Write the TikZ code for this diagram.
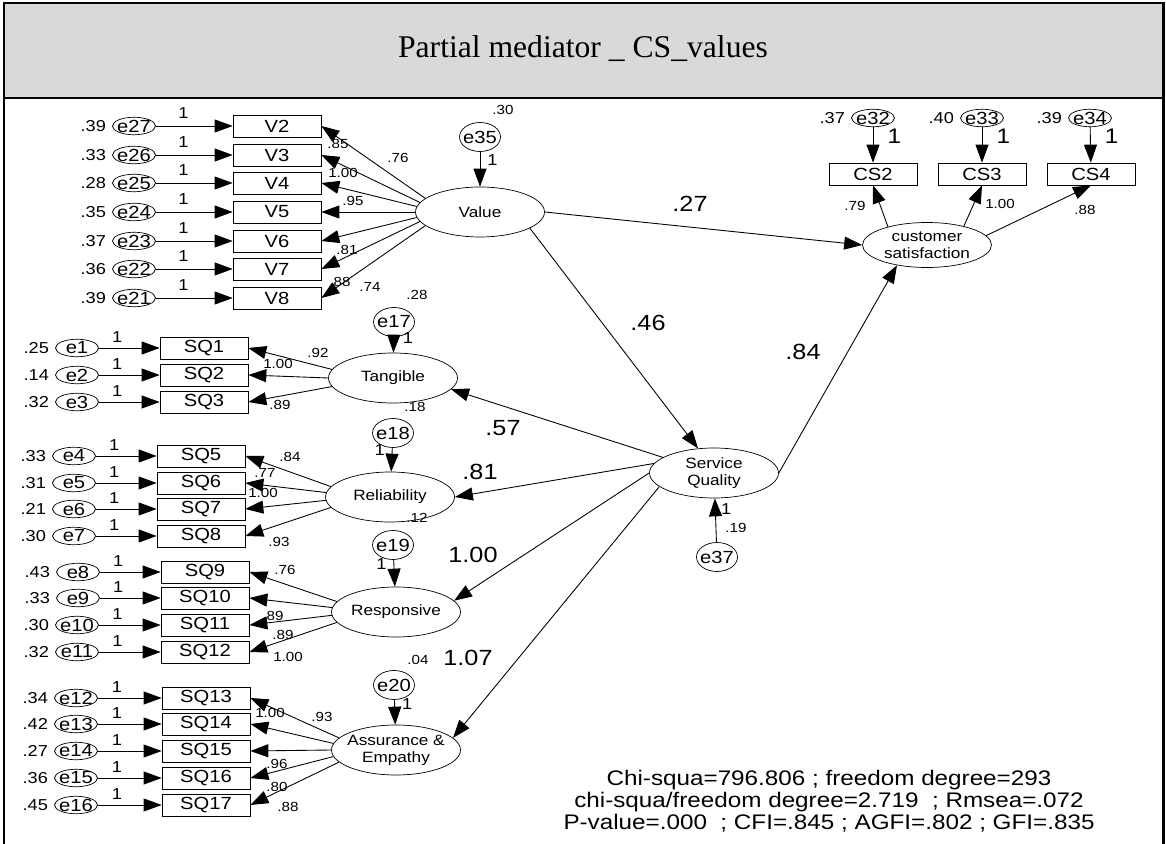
\documentclass[tikz,border=0pt]{standalone}
\usepackage{fontspec}
\setmainfont{Liberation Sans}[FakeStretch=1.15]
\newfontfamily\titlefont{Liberation Serif}
\usetikzlibrary{arrows.meta}
\usetikzlibrary{shapes.geometric}
\definecolor{titlegray}{RGB}{217,217,217}
\tikzset{
	latent/.style={
		ellipse,
		draw=black,
		thin,
		minimum width=2.58cm,
		minimum height=1cm,
		inner xsep=-5pt,
		inner ysep=0pt,
		align=center,
		font=\fontsize{8.5}{9.6}\selectfont,
	},
	manifest/.style={
		rectangle,
		draw=black,
		thin,
		minimum width=1.76cm,
		minimum height=0.44cm,
		inner sep=0pt,
		font=\fontsize{10}{12}\selectfont,
	},
	err/.style={
		ellipse,
		draw=black,
		thin,
		minimum width=0.86cm,
		minimum height=0.35cm,
		inner xsep=-3pt,
		inner ysep=-1pt,
		label distance=6pt,
		font=\fontsize{10}{12}\selectfont,
	},
	dist/.style={
		err,
		minimum width=0.82cm,
		minimum height=0.58cm,
	},
	varlab/.style={
		font=\fontsize{9}{10}\selectfont,
	},
	coef/.style={
		font=\fontsize{7.5}{8}\selectfont,
		inner sep=0pt,
	},
	pathlab/.style={
		font=\fontsize{12.5}{14}\selectfont,
		inner sep=0pt,
	},
	onelab/.style={
		font=\fontsize{9}{10}\selectfont,
		inner sep=1pt,
	},
	onebig/.style={
		font=\fontsize{12}{14}\selectfont,
		inner sep=1pt,
	},
	arrow/.style={
		-{Triangle[length=0.36cm,width=0.26cm]},
		line width=0.5pt,
	},
}

\begin{document}
\begin{tikzpicture}[x=0.02cm, y=-0.02cm]
		\useasboundingbox (0,0) rectangle (1166,844);

		% frame and title band
		\fill[titlegray] (4,3) rectangle (1163,98);
		\draw[line width=1.7pt] (4,844) -- (4,3) -- (1163,3) -- (1163,844);
		\draw[line width=1.7pt] (4,98) -- (1163,98);
		\node[font=\titlefont\fontsize{18}{20}\selectfont] (title) at (583,49) {Partial mediator \_ CS\_values};

		% Latent variables
		\node[latent] (value) at (480,212) {Value};
		\node[latent] (tang) at (393,378) {Tangible};
		\node[latent] (rel) at (390,497) {Reliability};
		\node[latent] (resp) at (396,612) {Responsive};
		\node[latent] (assur) at (396,750) {Assurance \&\\Empathy};
		\node[latent] (sq) at (714,473) {Service\\Quality};
		\node[latent, minimum height=0.9cm] (cs) at (927,245) {customer\\satisfaction};

		% Disturbances
		\node[dist] (e35) at (480,137) {e35};
		\node[dist] (e17) at (394,322) {e17};
		\node[dist] (e18) at (393,433) {e18};
		\node[dist] (e19) at (393,545) {e19};
		\node[dist] (e20) at (394,685) {e20};
		\node[dist] (e37) at (717,557) {e37};

		% Value indicators
		\node[manifest] (v2) at (277,126) {V2};
		\node[manifest] (v3) at (277,155) {V3};
		\node[manifest] (v4) at (277,183) {V4};
		\node[manifest] (v5) at (277,212) {V5};
		\node[manifest] (v6) at (277,241) {V6};
		\node[manifest] (v7) at (277,269) {V7};
		\node[manifest] (v8) at (277,298) {V8};

		\node[err, label={[varlab]left:.39}] (e27) at (134,126) {e27};
		\node[err, label={[varlab]left:.33}] (e26) at (134,155) {e26};
		\node[err, label={[varlab]left:.28}] (e25) at (134,183) {e25};
		\node[err, label={[varlab]left:.35}] (e24) at (134,212) {e24};
		\node[err, label={[varlab]left:.37}] (e23) at (134,241) {e23};
		\node[err, label={[varlab]left:.36}] (e22) at (134,269) {e22};
		\node[err, label={[varlab]left:.39}] (e21) at (134,298) {e21};

		% Service quality indicators
		\node[manifest] (sq1) at (204,348) {SQ1};
		\node[manifest] (sq2) at (204,375) {SQ2};
		\node[manifest] (sq3) at (204,402) {SQ3};
		\node[manifest] (sq5) at (201,456) {SQ5};
		\node[manifest] (sq6) at (201,483) {SQ6};
		\node[manifest] (sq7) at (201,509) {SQ7};
		\node[manifest] (sq8) at (201,536) {SQ8};
		\node[manifest] (sq9) at (205,572) {SQ9};
		\node[manifest] (sq10) at (205,598) {SQ10};
		\node[manifest] (sq11) at (205,625) {SQ11};
		\node[manifest] (sq12) at (205,652) {SQ12};
		\node[manifest] (sq13) at (206,698) {SQ13};
		\node[manifest] (sq14) at (206,724) {SQ14};
		\node[manifest] (sq15) at (206,751) {SQ15};
		\node[manifest] (sq16) at (206,778) {SQ16};
		\node[manifest] (sq17) at (206,805) {SQ17};

		\node[err, label={[varlab]left:.25}] (e1) at (77,348) {e1};
		\node[err, label={[varlab]left:.14}] (e2) at (77,375) {e2};
		\node[err, label={[varlab]left:.32}] (e3) at (77,402) {e3};
		\node[err, label={[varlab]left:.33}] (e4) at (74,456) {e4};
		\node[err, label={[varlab]left:.31}] (e5) at (74,483) {e5};
		\node[err, label={[varlab]left:.21}] (e6) at (74,509) {e6};
		\node[err, label={[varlab]left:.30}] (e7) at (74,536) {e7};
		\node[err, label={[varlab]left:.43}] (e8) at (78,572) {e8};
		\node[err, label={[varlab]left:.33}] (e9) at (78,598) {e9};
		\node[err, label={[varlab]left:.30}] (e10) at (77,625) {e10};
		\node[err, label={[varlab]left:.32}] (e11) at (77,652) {e11};
		\node[err, label={[varlab]left:.34}] (e12) at (76,698) {e12};
		\node[err, label={[varlab]left:.42}] (e13) at (76,724) {e13};
		\node[err, label={[varlab]left:.27}] (e14) at (76,751) {e14};
		\node[err, label={[varlab]left:.36}] (e15) at (76,778) {e15};
		\node[err, label={[varlab]left:.45}] (e16) at (76,805) {e16};

		% Customer satisfaction indicators
		\node[manifest] (cs2) at (873,174) {CS2};
		\node[manifest] (cs3) at (982,174) {CS3};
		\node[manifest] (cs4) at (1091,174) {CS4};
		\node[err, label={[varlab]left:.37}] (e32) at (873,118) {e32};
		\node[err, label={[varlab]left:.40}] (e33) at (982,118) {e33};
		\node[err, label={[varlab]left:.39}] (e34) at (1090,118) {e34};

		% error arrows
		\draw[arrow] (e27) -- node[onelab, above=3pt, pos=0.36] {1} (v2);
		\draw[arrow] (e26) -- node[onelab, above=3pt, pos=0.36] {1} (v3);
		\draw[arrow] (e25) -- node[onelab, above=3pt, pos=0.36] {1} (v4);
		\draw[arrow] (e24) -- node[onelab, above=3pt, pos=0.36] {1} (v5);
		\draw[arrow] (e23) -- node[onelab, above=3pt, pos=0.36] {1} (v6);
		\draw[arrow] (e22) -- node[onelab, above=3pt, pos=0.36] {1} (v7);
		\draw[arrow] (e21) -- node[onelab, above=3pt, pos=0.36] {1} (v8);

		\draw[arrow] (e1) -- node[onelab, above=2pt, pos=0.3] {1} (sq1);
		\draw[arrow] (e2) -- node[onelab, above=2pt, pos=0.3] {1} (sq2);
		\draw[arrow] (e3) -- node[onelab, above=2pt, pos=0.3] {1} (sq3);
		\draw[arrow] (e4) -- node[onelab, above=2pt, pos=0.3] {1} (sq5);
		\draw[arrow] (e5) -- node[onelab, above=2pt, pos=0.3] {1} (sq6);
		\draw[arrow] (e6) -- node[onelab, above=2pt, pos=0.3] {1} (sq7);
		\draw[arrow] (e7) -- node[onelab, above=2pt, pos=0.3] {1} (sq8);
		\draw[arrow] (e8) -- node[onelab, above=2pt, pos=0.3] {1} (sq9);
		\draw[arrow] (e9) -- node[onelab, above=2pt, pos=0.3] {1} (sq10);
		\draw[arrow] (e10) -- node[onelab, above=2pt, pos=0.3] {1} (sq11);
		\draw[arrow] (e11) -- node[onelab, above=2pt, pos=0.3] {1} (sq12);
		\draw[arrow] (e12) -- node[onelab, above=2pt, pos=0.3] {1} (sq13);
		\draw[arrow] (e13) -- node[onelab, above=2pt, pos=0.3] {1} (sq14);
		\draw[arrow] (e14) -- node[onelab, above=2pt, pos=0.3] {1} (sq15);
		\draw[arrow] (e15) -- node[onelab, above=2pt, pos=0.3] {1} (sq16);
		\draw[arrow] (e16) -- node[onelab, above=2pt, pos=0.3] {1} (sq17);

		\draw[arrow] (e32) -- node[onebig, right, pos=0.25, xshift=7pt] {1} (cs2);
		\draw[arrow] (e33) -- node[onebig, right, pos=0.25, xshift=7pt] {1} (cs3);
		\draw[arrow] (e34) -- node[onebig, right, pos=0.25, xshift=7pt] {1} (cs4);

		\draw[arrow] (e35) -- node[onelab, right=3pt, pos=0.25] {1} (value);
		\draw[arrow] (e17) -- node[onelab, right=4pt, pos=0.05] {1} (tang);
		\draw[arrow] (e18) -- node[onelab, left=3pt, pos=0.1] {1} (rel);
		\draw[arrow] (e19) -- node[onelab, left=3pt, pos=0.15] {1} (resp);
		\draw[arrow] (e20) -- node[onelab, right=3pt, pos=0.15] {1} (assur);
		\draw[arrow] (e37) -- node[onelab, right=2pt, pos=0.75] {1} (sq);

		% loadings
		\draw[arrow] (value.166) -- (v2.east);
		\draw[arrow] (value.171) -- (v3.east);
		\draw[arrow] (value.175) -- (v4.east);
		\draw[arrow] (value.180) -- (v5.east);
		\draw[arrow] (value.185) -- (v6.east);
		\draw[arrow] (value.189) -- (v7.east);
		\draw[arrow] (value.194) -- (v8.east);

		\draw[arrow] (tang.172) -- (sq1.east);
		\draw[arrow] (tang.180) -- (sq2.east);
		\draw[arrow] (tang.188) -- (sq3.east);

		\draw[arrow] (rel.170) -- (sq5.east);
		\draw[arrow] (rel.176) -- (sq6.east);
		\draw[arrow] (rel.183) -- (sq7.east);
		\draw[arrow] (rel.190) -- (sq8.east);

		\draw[arrow] (resp.170) -- (sq9.east);
		\draw[arrow] (resp.176) -- (sq10.east);
		\draw[arrow] (resp.183) -- (sq11.east);
		\draw[arrow] (resp.190) -- (sq12.east);

		\draw[arrow] (assur.168) -- (sq13.east);
		\draw[arrow] (assur.174) -- (sq14.east);
		\draw[arrow] (assur.180) -- (sq15.east);
		\draw[arrow] (assur.186) -- (sq16.east);
		\draw[arrow] (assur.192) -- (sq17.east);

		\draw[arrow] (cs.155) -- (cs2.south);
		\draw[arrow] (cs.27) -- (cs3.south);
		\draw[arrow] (cs.9) -- (cs4.south);

		% structural paths
		\draw[arrow] (value.east) -- (cs.west);
		\draw[arrow] (value.-18) -- (sq.123);
		\draw[arrow] (sq.east) -- (cs.214);
		\draw[arrow] (sq.163) -- (tang.-11);
		\draw[arrow] (sq.171) -- (rel.east);
		\draw[arrow] (sq.180) -- (resp.11);
		\draw[arrow] (sq.194) -- (assur.12);

		% loading estimates
		\node[coef] (lv2) at (338,144) {.85};
		\node[coef] (lv2b) at (398,158) {.76};
		\node[coef] (lv3) at (343,173) {1.00};
		\node[coef] (lv4) at (353,201) {.95};
		\node[coef] (lv6) at (347,250) {.81};
		\node[coef] (lv7) at (340,282) {.88};
		\node[coef] (lv8) at (370,287) {.74};

		\node[coef] (lt1) at (318,353) {.92};
		\node[coef] (lt2) at (278,364) {1.00};
		\node[coef] (lt3) at (280,405) {.89};

		\node[coef] (lr1) at (290,457) {.84};
		\node[coef] (lr2) at (265,473) {.77};
		\node[coef] (lr3) at (263,493) {1.00};
		\node[coef] (lr4) at (279,542) {.93};

		\node[coef] (lp1) at (285,570) {.76};
		\node[coef] (lp2) at (275,616) {89};
		\node[coef] (lp3) at (283,635) {.89};
		\node[coef] (lp4) at (288,657) {1.00};

		\node[coef] (la1) at (270,713) {1.00};
		\node[coef] (la2) at (322,717) {.93};
		\node[coef] (la3) at (277,764) {.96};
		\node[coef] (la4) at (277,787) {.80};
		\node[coef] (la5) at (288,807) {.88};

		\node[coef] (lc2) at (855,206) {.79};
		\node[coef] (lc3) at (1000,204) {1.00};
		\node[coef] (lc4) at (1085,210) {.88};

		% squared multiple correlations
		\node[coef] (r2value) at (503,110) {.30};
		\node[coef] (r2tang) at (417,295) {.28};
		\node[coef] (r2rel) at (415,407) {.18};
		\node[coef] (r2resp) at (417,518) {.12};
		\node[coef] (r2assur) at (418,660) {.04};
		\node[coef] (r2sq) at (736,528) {.19};

		% path estimates
		\node[pathlab] (p27) at (690,204) {.27};
		\node[pathlab] (p46) at (648,323) {.46};
		\node[pathlab] (p84) at (803,352) {.84};
		\node[pathlab] (p57) at (503,428) {.57};
		\node[pathlab] (p81) at (480,472) {.81};
		\node[pathlab] (p100) at (473,555) {1.00};
		\node[pathlab] (p107) at (468,658) {1.07};

		% fit indices
		\node[font=\fontsize{12}{12.6}\selectfont, align=center] (fit) at (829,801) {Chi-squa=796.806 ; freedom degree=293\\chi-squa/freedom degree=2.719 \ ; Rmsea=.072\\P-value=.000 \ ; CFI=.845 ; AGFI=.802 ; GFI=.835};

\end{tikzpicture}
\end{document}
